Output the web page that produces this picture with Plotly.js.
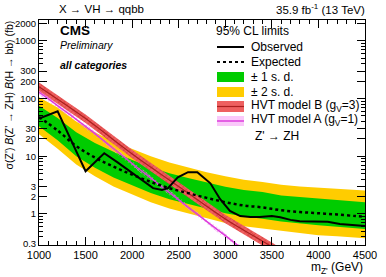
<!DOCTYPE html>
<html><head><meta charset="utf-8">
<script src="https://cdn.plot.ly/plotly-3.0.1.min.js"></script>
<style>html,body{margin:0;padding:0;background:#fff}#c{width:386px;height:277px}</style>
</head><body><div id="c"></div>
<script>
const mass = [1000,1200,1400,1600,1800,2000,2200,2400,2600,2800,3000,3200,3400,3600,3800,4000,4200,4400,4500];
const expected = [48,28,15,9.5,6.6,4.8,3.6,2.8,2.3,1.9,1.6,1.4,1.3,1.16,1.08,1.03,0.98,0.92,0.9];
const plus1 = [75,46,26,17,12,8.6,6.5,5.1,4.2,3.5,2.95,2.6,2.4,2.1,1.95,1.85,1.75,1.65,1.6];
const plus2 = [105,70,40,26,18,13.5,10,7.8,6.4,5.3,4.5,3.9,3.6,3.2,3.0,2.85,2.7,2.6,2.55];
const minus1 = [33,19,10,6.3,4.3,3.1,2.3,1.8,1.5,1.22,1.03,0.9,0.83,0.74,0.68,0.64,0.6,0.57,0.55];
const minus2 = [24,13.5,7.2,4.5,3.0,2.2,1.6,1.25,1.02,0.84,0.7,0.61,0.56,0.5,0.46,0.43,0.41,0.39,0.38];

const obsMass = [1000,1200,1500,1700,1840,1940,2085,2225,2320,2385,2490,2600,2700,2840,2945,3050,3160,3270,3370,3500,3590,3700,3800,4000,4100,4230,4350,4500];
const observed = [45,60,5.5,11.3,7.9,6.0,4.0,2.8,2.6,2.8,4.3,5.3,5.3,3.4,1.8,1.13,0.92,0.89,0.89,0.92,0.88,0.79,0.75,0.75,0.73,0.67,0.64,0.62];

const hvtMass = [1000,1500,2000,2500,3000,3500,4000,4500];
const hvtB = [160,45,11,3.0,0.82,0.27,0.08,0.025];
const hvtBlo = [134,37.8,9.2,2.52,0.69,0.227,0.067,0.021];
const hvtBhi = [189,53,13,3.54,0.97,0.32,0.094,0.03];
const hvtA = [130,33,7.5,1.75,0.42,0.1,0.025,0.006];
const hvtAlo = [117,29.7,6.75,1.58,0.38,0.09,0.0225,0.0054];
const hvtAhi = [143,36.3,8.25,1.93,0.46,0.11,0.0275,0.0066];

const yTickVals = [0.3,1,2,3,10,20,30,100,200,300,1000,2000];
const yTickText = ['0.3','1','2','3','10','20','30','100','200','300','1000','2000'];
const yMinor = [0.4,0.5,0.6,0.7,0.8,0.9,4,5,6,7,8,9,40,50,60,70,80,90,400,500,600,700,800,900];
const xTickVals = [1000,1500,2000,2500,3000,3500,4000,4500];
const xMinor = [1100,1200,1300,1400,1600,1700,1800,1900,2100,2200,2300,2400,2600,2700,2800,2900,3100,3200,3300,3400,3600,3700,3800,3900,4100,4200,4300,4400];

const GREEN='#00cc00', YELLOW='#ffcc00', RED='rgb(238,96,96)', DRED='rgb(170,30,30)', MAG='rgb(220,60,220)';
const none={width:0,color:'rgba(0,0,0,0)'};

const traces = [
 {x:mass,y:minus2,mode:'lines',line:none},
 {x:mass,y:plus2,mode:'lines',line:none,fill:'tonexty',fillcolor:YELLOW},
 {x:mass,y:minus1,mode:'lines',line:none},
 {x:mass,y:plus1,mode:'lines',line:none,fill:'tonexty',fillcolor:GREEN},
 {x:hvtMass,y:hvtBlo,mode:'lines',line:none},
 {x:hvtMass,y:hvtBhi,mode:'lines',line:none,fill:'tonexty',fillcolor:RED,
   fillpattern:{shape:'x',fgcolor:'rgb(215,60,60)',bgcolor:RED,size:4,solidity:0.3}},
 {x:hvtMass,y:hvtAlo,mode:'lines',line:none},
 {x:hvtMass,y:hvtAhi,mode:'lines',line:none,fill:'tonexty',fillcolor:'rgba(0,0,0,0)',
   fillpattern:{shape:'x',fgcolor:'rgb(240,120,240)',bgcolor:'rgba(255,255,255,0)',size:4,solidity:0.3}},
 {x:hvtMass,y:hvtB,mode:'lines',line:{color:DRED,width:1.2,shape:'spline'}},
 {x:hvtMass,y:hvtA,mode:'lines',line:{color:MAG,width:1.5,shape:'spline'}},
 {x:mass,y:expected,mode:'lines',line:{color:'black',width:2.5,dash:'dot',shape:'spline'}},
 {x:obsMass,y:observed,mode:'lines',line:{color:'black',width:2}}
];

const F='Liberation Sans, Arial, Helvetica, sans-serif';
const L=39,R=365,T=20,B=245;
const px=v=>(v-L)/(R-L), py=v=>(B-v)/(B-T);
const shapes=[];
const ann=[];
function legText(x,y,t,sz){ann.push({xref:'paper',yref:'paper',x:px(x),y:py(y),text:t,showarrow:false,xanchor:'left',yanchor:'middle',font:{family:F,size:sz||12,color:'black'}});}
legText(214,31,'95% CL limits');
shapes.push({type:'line',xref:'paper',yref:'paper',x0:px(217),x1:px(244),y0:py(47),y1:py(47),line:{color:'black',width:2}});
legText(249,47,'Observed');
shapes.push({type:'line',xref:'paper',yref:'paper',x0:px(217),x1:px(244),y0:py(62),y1:py(62),line:{color:'black',width:2,dash:'dot'}});
legText(249,62,'Expected');
shapes.push({type:'rect',xref:'paper',yref:'paper',x0:px(217),x1:px(244),y0:py(72),y1:py(82),fillcolor:GREEN,line:{width:0}});
legText(249,77,'± 1 s. d.');
shapes.push({type:'rect',xref:'paper',yref:'paper',x0:px(217),x1:px(244),y0:py(87),y1:py(97),fillcolor:YELLOW,line:{width:0}});
legText(249,92,'± 2 s. d.');
shapes.push({type:'rect',xref:'paper',yref:'paper',x0:px(217),x1:px(244),y0:py(101),y1:py(112),fillcolor:RED,line:{width:0}});
shapes.push({type:'line',xref:'paper',yref:'paper',x0:px(217),x1:px(244),y0:py(106.5),y1:py(106.5),line:{color:DRED,width:1.2}});
legText(249,106,'HVT model B (g<sub>V</sub>=3)');
shapes.push({type:'rect',xref:'paper',yref:'paper',x0:px(217),x1:px(244),y0:py(116),y1:py(126),fillcolor:'rgb(250,200,250)',line:{width:0}});
shapes.push({type:'line',xref:'paper',yref:'paper',x0:px(217),x1:px(244),y0:py(121),y1:py(121),line:{color:MAG,width:1.5}});
legText(249,120,'HVT model A (g<sub>V</sub>=1)');
legText(253,136,"Z' → ZH");

ann.push({xref:'paper',yref:'paper',x:px(58),y:py(31),text:'<b>CMS</b>',showarrow:false,xanchor:'left',yanchor:'middle',font:{family:F,size:13.5,color:'black'}});
ann.push({xref:'paper',yref:'paper',x:px(58),y:py(45.5),text:'<i>Preliminary</i>',showarrow:false,xanchor:'left',yanchor:'middle',font:{family:F,size:10.5,color:'black'}});
ann.push({xref:'paper',yref:'paper',x:px(58),y:py(65),text:'<b><i>all categories</i></b>',showarrow:false,xanchor:'left',yanchor:'middle',font:{family:F,size:10.5,color:'black'}});
ann.push({xref:'paper',yref:'paper',x:px(57),y:py(9),text:'X → VH → qqbb',showarrow:false,xanchor:'left',yanchor:'middle',font:{family:F,size:11.5,color:'black'}});
ann.push({xref:'paper',yref:'paper',x:px(367),y:py(9),text:'35.9 fb<sup>-1</sup> (13 TeV)',showarrow:false,xanchor:'right',yanchor:'middle',font:{family:F,size:11.5,color:'black'}});
ann.push({xref:'paper',yref:'paper',x:px(365),y:py(268),text:"m<sub>Z'</sub> (GeV)",showarrow:false,xanchor:'right',yanchor:'middle',font:{family:F,size:12,color:'black'}});
ann.push({xref:'paper',yref:'paper',x:px(8),y:py(19),text:"σ(Z') <i>B</i>(Z' → ZH) <i>B</i>(H → bb) (fb)",showarrow:false,textangle:-90,xanchor:'center',yanchor:'top',font:{family:F,size:10.5,color:'black'}});

const layout={
 width:386,height:277,margin:{l:39,r:21,t:20,b:32},
 paper_bgcolor:'white',plot_bgcolor:'white',showlegend:false,
 font:{family:F,size:11,color:'black'},
 xaxis:{range:[1000,4500],tickvals:xTickVals,ticks:'inside',ticklen:8,tickcolor:'black',
   mirror:'ticks',showline:true,linecolor:'black',linewidth:1,showgrid:false,zeroline:false,tickfont:{size:11},
   minor:{tickvals:xMinor,ticks:'inside',ticklen:4,tickcolor:'black',showgrid:false}},
 yaxis:{type:'log',range:[Math.log10(0.29),Math.log10(2300)],tickvals:yTickVals,ticktext:yTickText,ticks:'inside',ticklen:8,tickcolor:'black',
   mirror:'ticks',showline:true,linecolor:'black',linewidth:1,showgrid:false,zeroline:false,tickfont:{size:9.5},
   minor:{tickvals:yMinor,ticks:'inside',ticklen:4,tickcolor:'black',showgrid:false}},
 shapes:shapes,annotations:ann
};
Plotly.newPlot('c',traces,layout,{staticPlot:true,displayModeBar:false});
</script></body></html>
